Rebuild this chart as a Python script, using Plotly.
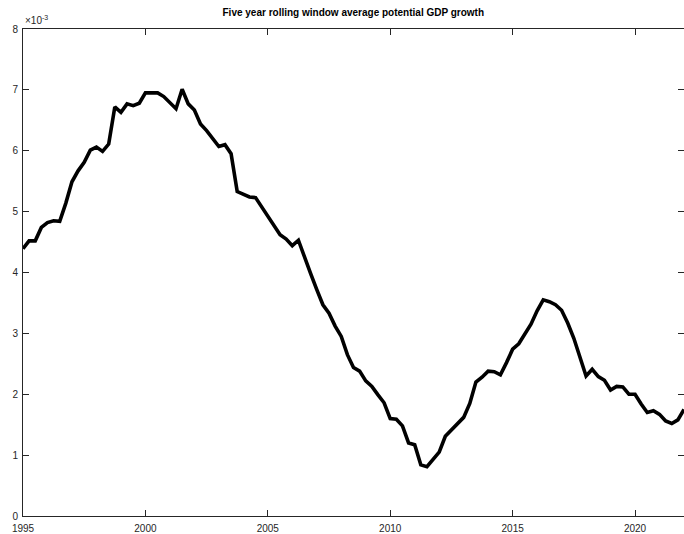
import numpy as np
import plotly.graph_objects as go

# Quarterly observations, 1995Q1 .. 2022Q1 (five-year rolling mean of potential GDP growth)
start_year = 1995.0
quarter_step = 0.25
growth_e3 = [
    4.39, 4.52, 4.52, 4.74, 4.82, 4.85, 4.84, 5.14, 5.49, 5.67,
    5.81, 6.01, 6.06, 5.99, 6.11, 6.72, 6.63, 6.77, 6.74, 6.78,
    6.95, 6.95, 6.95, 6.89, 6.79, 6.69, 7.01, 6.77, 6.67, 6.44,
    6.33, 6.20, 6.07, 6.10, 5.95, 5.33, 5.28, 5.24, 5.23, 5.08,
    4.92, 4.79, 4.62, 4.55, 4.44, 4.53, 4.24, 3.98, 3.72, 3.47,
    3.33, 3.12, 2.95, 2.65, 2.44, 2.38, 2.22, 2.13, 1.99, 1.86,
    1.60, 1.59, 1.48, 1.20, 1.17, 0.84, 0.81, 0.93, 1.05, 1.31,
    1.41, 1.52, 1.62, 1.85, 2.20, 2.28, 2.38, 2.37, 2.32, 2.52,
    2.74, 2.83, 2.98, 3.15, 3.37, 3.55, 3.52, 3.47, 3.38, 3.17,
    2.92, 2.60, 2.30, 2.41, 2.29, 2.23, 2.07, 2.13, 2.12, 2.00,
    2.00, 1.84, 1.70, 1.73, 1.67, 1.56, 1.52, 1.58, 1.75,
]
growth = [v * 1e-3 for v in growth_e3]
dates = [start_year + quarter_step * i for i in range(len(growth))]

x_ticks = [1995, 2000, 2005, 2010, 2015, 2020]
y_tick_units = [0, 1, 2, 3, 4, 5, 6, 7, 8]

axis_color = "#262626"
font_family = "Liberation Sans, Arial, sans-serif"

fig = go.Figure()
fig.add_trace(go.Scatter(
    x=dates, y=growth, mode="lines",
    line=dict(color="black", width=3.6),
    hoverinfo="skip", showlegend=False,
))

fig.update_layout(
    width=684, height=534,
    margin=dict(l=23, r=0, t=29, b=18),
    paper_bgcolor="white", plot_bgcolor="white",
    font=dict(family=font_family, size=10, color=axis_color),
    title=dict(
        text="<b>Five year rolling window average potential GDP growth</b>",
        x=0.5165, xanchor="center", y=0.977, yanchor="middle",
        font=dict(family=font_family, size=10, color="black"),
    ),
    xaxis=dict(
        range=[1995, 2022], tickvals=x_ticks,
        ticktext=[str(t) for t in x_ticks],
        showgrid=False, zeroline=False,
        showline=True, linecolor=axis_color, linewidth=1, mirror="ticks",
        ticks="inside", ticklen=6, tickcolor=axis_color, tickwidth=1,
        tickfont=dict(size=10, color=axis_color), ticklabelstandoff=3,
    ),
    yaxis=dict(
        range=[0, 8e-3], tickvals=[u * 1e-3 for u in y_tick_units],
        ticktext=[str(u) for u in y_tick_units],
        showgrid=False, zeroline=False,
        showline=True, linecolor=axis_color, linewidth=1, mirror="ticks",
        ticks="inside", ticklen=6, tickcolor=axis_color, tickwidth=1,
        tickfont=dict(size=10, color=axis_color), ticklabelstandoff=2,
    ),
)

# Exponent multiplier for the y axis
fig.add_annotation(
    text="\u00d710<sup>-3</sup>", xref="paper", yref="paper",
    x=0.0, y=1.0, xanchor="left", yanchor="bottom", yshift=1, xshift=0,
    showarrow=False, font=dict(family=font_family, size=10, color=axis_color),
)

fig.write_html("out.html")
